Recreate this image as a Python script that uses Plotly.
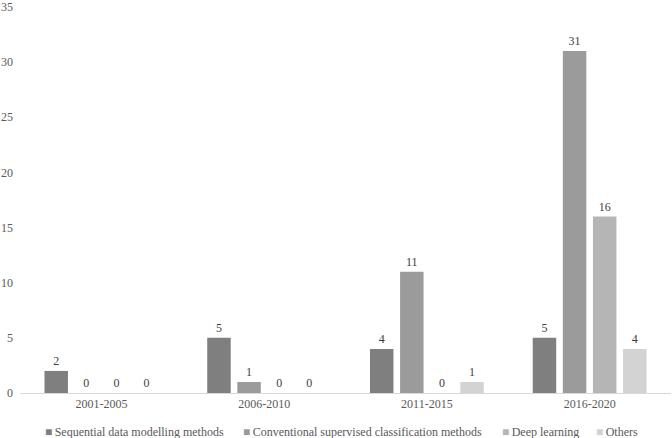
import plotly.graph_objects as go

periods = ["2001-2005", "2006-2010", "2011-2015", "2016-2020"]
sequential = [2, 5, 4, 5]
conventional = [0, 1, 11, 31]
deep_learning = [0, 0, 0, 16]
others = [0, 0, 1, 4]

series = [
    ("Sequential data modelling methods", sequential, "#7f7f7f"),
    ("Conventional supervised classification methods", conventional, "#9b9b9b"),
    ("Deep learning", deep_learning, "#b5b5b5"),
    ("Others", others, "#d3d3d3"),
]

font_main = "Liberation Serif, Times New Roman, serif"
text_col = "#595959"

fig = go.Figure()
for name, vals, col in series:
    fig.add_trace(go.Bar(
        x=periods, y=vals, name=name,
        marker_color=col, marker_line_width=0,
        text=vals, textposition="outside", cliponaxis=False,
        constraintext="none",
        textfont=dict(size=12, color="#404040", family=font_main),
    ))

# legend drawn as a row of text entries, like the original
legend_x = [0.036, 0.339, 0.737, 0.881]
for (name, vals, col), lx in zip(series, legend_x):
    fig.add_annotation(
        x=lx, y=-0.1, xref="paper", yref="paper",
        xanchor="left", yanchor="middle", showarrow=False,
        text=f"<span style='color:{col}'>■</span>\u2009{name}",
        font=dict(size=12, color=text_col, family=font_main),
    )

fig.update_layout(
    width=672, height=438,
    margin=dict(l=20, r=1, t=7, b=45, autoexpand=False),
    plot_bgcolor="white", paper_bgcolor="white",
    font=dict(family=font_main, size=12, color=text_col),
    barmode="group", bargap=0.26, bargroupgap=0.22,
    showlegend=False,
)
fig.update_xaxes(showline=True, linecolor="#d9d9d9", linewidth=1,
                 showgrid=False, ticks="",
                 tickfont=dict(size=12, color=text_col))
fig.update_yaxes(range=[0, 35], tickvals=[0, 5, 10, 15, 20, 25, 30, 35],
                 showgrid=False, zeroline=False,
                 showline=False, ticks="",
                 tickfont=dict(size=12, color=text_col),
                 ticklabelstandoff=6)

fig.write_html("out.html", config={"displayModeBar": False},
               post_script="document.body.style.margin='0';")
